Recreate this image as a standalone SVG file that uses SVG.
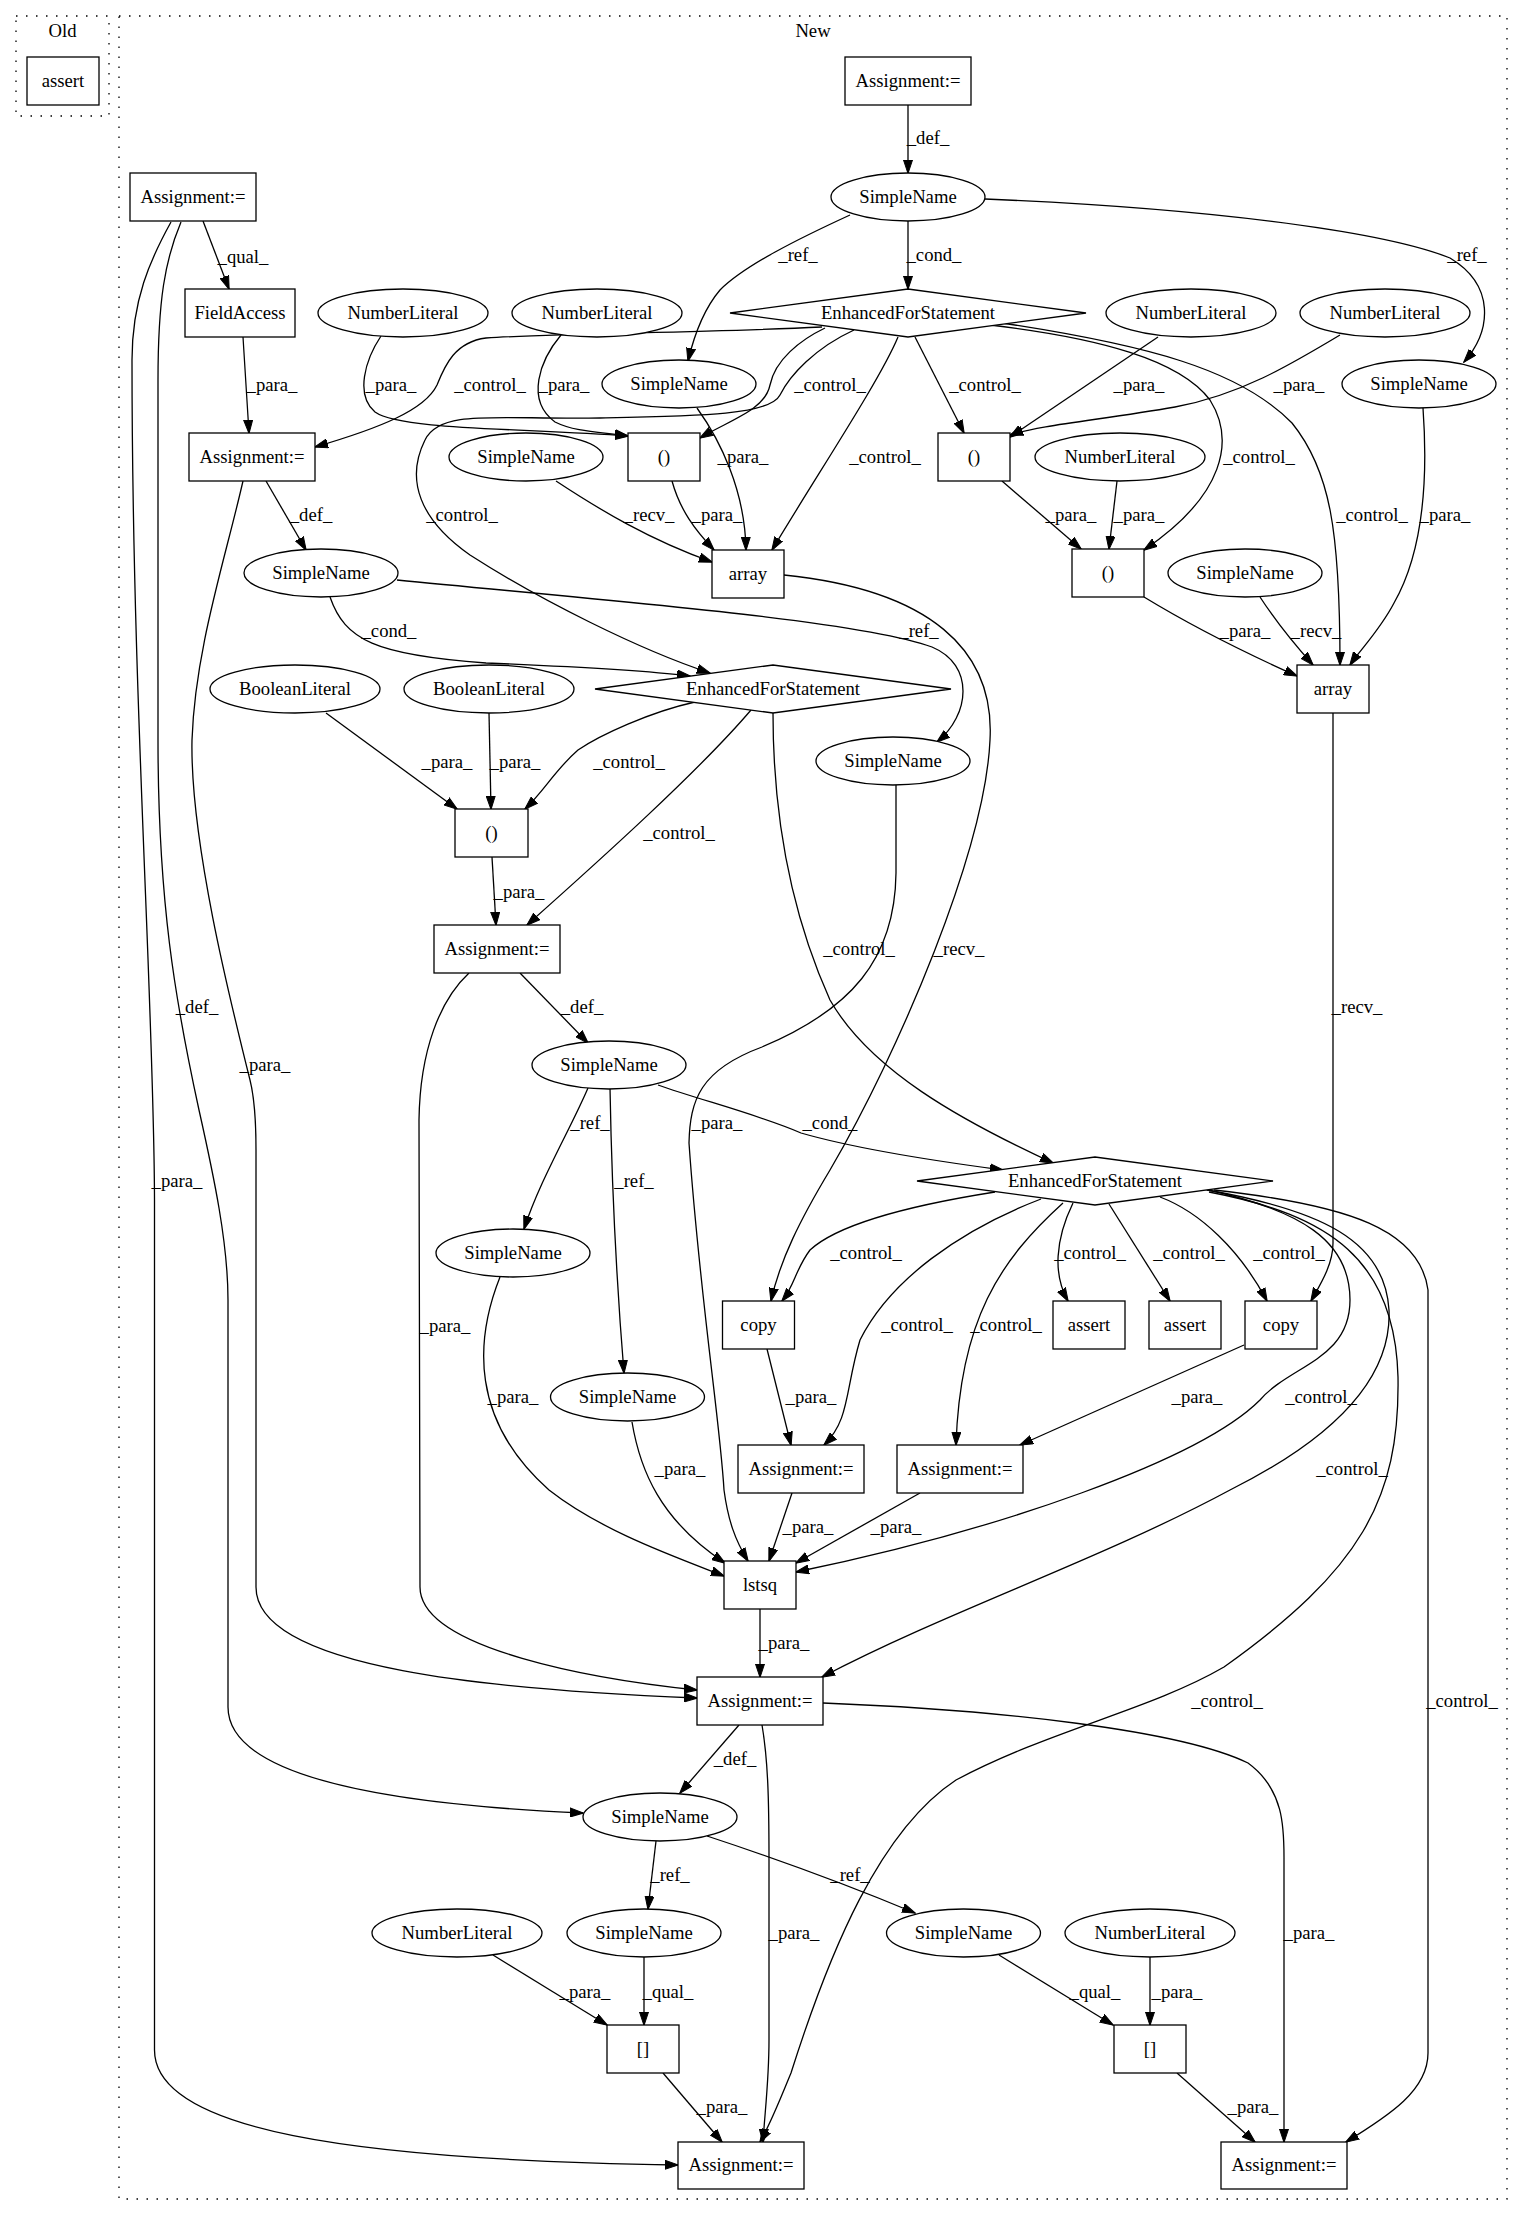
<svg xmlns="http://www.w3.org/2000/svg" width="1524" height="2216" viewBox="0 0 1524 2216">
<defs>
<marker id="ah" viewBox="0 0 14 10" refX="13" refY="5" markerWidth="14" markerHeight="10" orient="auto" markerUnits="userSpaceOnUse"><path d="M0,0.5 L13.5,5 L0,9.5 z" fill="#000" stroke="#000" stroke-width="1"/></marker>
<style>
text{font-family:"Liberation Serif","Times New Roman",serif;font-size:18.67px;fill:#000;text-anchor:middle}
.cl{fill:none;stroke:#000;stroke-width:1.3;stroke-dasharray:1.5,8.5}
.nd rect,.nd ellipse,.nd polygon{fill:#fff;stroke:#000;stroke-width:1.3}
#edges path{fill:none;stroke:#000;stroke-width:1.3;marker-end:url(#ah)}
</style>
</defs>
<rect width="1524" height="2216" fill="#fff"/>
<g id="clusters">
<rect class="cl" x="16" y="16" width="93" height="100"/>
<text x="62.5" y="37">Old</text>
<rect class="cl" x="119" y="16" width="1388" height="2183"/>
<text x="813" y="37">New</text>
</g>
<g id="edges">
<path d="M908,105 L908,173"/>
<path d="M908,221 L908,289"/>
<path d="M850,215 C800,238 745,265 720,290 C703,310 693,340 688,361"/>
<path d="M985,199 C1200,208 1380,230 1450,258 C1495,285 1492,330 1464,362"/>
<path d="M203,221 L229,289"/>
<path d="M171,222 C150,260 132,300 132,360 C132,700 154,1000 154.5,1200 L154.5,2050 C154.5,2130 350,2160 678,2165"/>
<path d="M181,222 C165,260 158,300 158,380 L158,740 C158,900 175,1000 199,1110 C214,1177 228,1243 228,1300 L228,1707 C228,1780 400,1805 583,1813"/>
<path d="M243,337 L249,433"/>
<path d="M381,336 C365,360 355,395 375,412 C400,430 520,428 628,436"/>
<path d="M561,335 C540,360 525,400 555,422 C575,432 600,432 628,436"/>
<path d="M822,327 C700,333 560,333 486,338 C455,342 445,365 437,385 C425,410 380,428 315,447"/>
<path d="M825,328 C800,340 775,360 770,385 C765,410 730,420 700,438"/>
<path d="M854,330 C815,348 790,375 780,395 C770,415 700,416 600,418 C500,420 440,408 425,440 C405,480 420,520 470,555 C540,600 640,650 710,673"/>
<path d="M898,337 C880,380 820,470 772,550"/>
<path d="M915,337 L964,433"/>
<path d="M990,325 C1100,338 1180,360 1210,400 C1235,440 1225,495 1144,550"/>
<path d="M995,322 C1150,345 1240,370 1292,423 C1330,470 1340,530 1340,665"/>
<path d="M1158,337 L1010,437"/>
<path d="M1340,335 C1290,365 1240,395 1175,407 C1100,420 1040,425 1010,435"/>
<path d="M697,408 C720,440 745,490 746,550"/>
<path d="M1423,408 C1426,450 1430,540 1394,603 C1380,630 1360,650 1350,665"/>
<path d="M556,481 C600,510 650,540 712,562"/>
<path d="M672,481 C680,510 695,530 714,550"/>
<path d="M1002,481 L1081,549"/>
<path d="M1117,481 L1109,549"/>
<path d="M1144,597 C1190,625 1250,655 1297,676"/>
<path d="M1260,597 C1275,620 1295,645 1313,665"/>
<path d="M266,481 L306,550"/>
<path d="M330,597 C345,640 375,655 486,663 C583,667 640,670 690,676"/>
<path d="M397,580 C600,600 860,620 932,647 C975,665 970,715 937,742"/>
<path d="M326,713 L457,809"/>
<path d="M489,713 L491,809"/>
<path d="M695,702 C650,712 600,735 578,750 C555,770 545,790 525,809"/>
<path d="M751,710 C700,770 600,860 527,925"/>
<path d="M773,713 C773,800 785,900 830,1000 C870,1070 960,1120 1053,1163"/>
<path d="M784,575 C930,590 995,650 990,740 C985,850 900,1050 830,1170 C800,1220 780,1260 771,1301"/>
<path d="M1333,713 L1333,1243 C1333,1265 1320,1285 1311,1301"/>
<path d="M492,857 L496,925"/>
<path d="M520,973 L588,1043"/>
<path d="M469,973 C440,1000 420,1050 419,1120 L420,1587 C420,1650 600,1680 697,1690"/>
<path d="M243,481 C225,560 195,650 192,740 C190,840 230,1000 250,1080 C255,1100 256,1130 256,1150 L256,1587 C256,1670 500,1690 697,1698"/>
<path d="M896,785 L896,873 C895,960 850,1010 762,1047 C700,1070 690,1100 689,1143 C700,1300 720,1420 724,1490 C728,1520 735,1540 748,1561"/>
<path d="M658,1085 C700,1100 760,1115 801,1133 C860,1150 950,1163 1003,1170"/>
<path d="M588,1088 C570,1130 540,1180 524,1229"/>
<path d="M610,1088 C612,1200 618,1300 624,1373"/>
<path d="M500,1277 C475,1340 470,1420 549,1490 C600,1530 670,1555 724,1576"/>
<path d="M632,1422 C640,1470 660,1520 725,1563"/>
<path d="M995,1192 C900,1207 835,1227 810,1250 C795,1270 795,1285 782,1301"/>
<path d="M1041,1199 C960,1230 890,1280 860,1340 C845,1390 850,1420 824,1445"/>
<path d="M1063,1203 C1000,1260 960,1320 956,1445"/>
<path d="M1073,1203 C1055,1240 1053,1275 1068,1301"/>
<path d="M1109,1204 L1170,1301"/>
<path d="M1160,1197 C1200,1212 1240,1250 1267,1301"/>
<path d="M1204,1189 C1300,1210 1350,1240 1350,1300 C1350,1360 1290,1365 1260,1400 C1200,1460 1000,1530 796,1572"/>
<path d="M1207,1190 C1320,1210 1385,1240 1389,1310 C1392,1380 1330,1440 1230,1490 C1100,1560 950,1610 822,1677"/>
<path d="M1209,1192 C1330,1215 1395,1260 1398,1377 C1400,1500 1360,1570 1224,1667 C1150,1710 1050,1730 956,1780 C880,1830 830,1950 791,2073 C780,2100 770,2125 760,2142"/>
<path d="M1214,1190 C1350,1205 1420,1230 1428,1290 L1428,2053 C1428,2090 1390,2115 1346,2142"/>
<path d="M767,1349 L791,1445"/>
<path d="M1244,1345 L1020,1445"/>
<path d="M792,1493 L769,1561"/>
<path d="M920,1493 L796,1563"/>
<path d="M760,1609 L760,1677"/>
<path d="M739,1725 L680,1793"/>
<path d="M762,1725 C768,1760 769,1800 769,1860 L769,2040 C769,2080 765,2110 763,2142"/>
<path d="M823,1703 C1000,1710 1180,1730 1248,1763 C1285,1790 1284,1830 1284,1860 L1284,2142"/>
<path d="M656,1841 L648,1909"/>
<path d="M707,1836 C780,1860 860,1890 915,1913"/>
<path d="M493,1955 L607,2025"/>
<path d="M644,1957 L644,2025"/>
<path d="M999,1955 L1113,2025"/>
<path d="M1150,1957 L1150,2025"/>
<path d="M663,2073 L722,2142"/>
<path d="M1177,2073 L1255,2142"/>
<text x="928" y="144">_def_</text>
<text x="934" y="261">_cond_</text>
<text x="798" y="261">_ref_</text>
<text x="1467" y="261">_ref_</text>
<text x="243" y="263">_qual_</text>
<text x="177" y="1187">_para_</text>
<text x="197" y="1013">_def_</text>
<text x="272" y="391">_para_</text>
<text x="391" y="391">_para_</text>
<text x="490" y="391">_control_</text>
<text x="564" y="391">_para_</text>
<text x="830" y="391">_control_</text>
<text x="985" y="391">_control_</text>
<text x="1139" y="391">_para_</text>
<text x="1299" y="391">_para_</text>
<text x="743" y="463">_para_</text>
<text x="885" y="463">_control_</text>
<text x="1259" y="463">_control_</text>
<text x="311" y="521">_def_</text>
<text x="462" y="521">_control_</text>
<text x="649" y="521">_recv_</text>
<text x="717" y="521">_para_</text>
<text x="1071" y="521">_para_</text>
<text x="1139" y="521">_para_</text>
<text x="1372" y="521">_control_</text>
<text x="1445" y="521">_para_</text>
<text x="389" y="637">_cond_</text>
<text x="919" y="637">_ref_</text>
<text x="1245" y="637">_para_</text>
<text x="1316" y="637">_recv_</text>
<text x="447" y="768">_para_</text>
<text x="515" y="768">_para_</text>
<text x="629" y="768">_control_</text>
<text x="679" y="839">_control_</text>
<text x="519" y="898">_para_</text>
<text x="859" y="955">_control_</text>
<text x="959" y="955">_recv_</text>
<text x="582" y="1013">_def_</text>
<text x="1357" y="1013">_recv_</text>
<text x="265" y="1071">_para_</text>
<text x="590" y="1129">_ref_</text>
<text x="717" y="1129">_para_</text>
<text x="830" y="1129">_cond_</text>
<text x="634" y="1187">_ref_</text>
<text x="866" y="1259">_control_</text>
<text x="1090" y="1259">_control_</text>
<text x="1189" y="1259">_control_</text>
<text x="1289" y="1259">_control_</text>
<text x="445" y="1332">_para_</text>
<text x="917" y="1331">_control_</text>
<text x="1006" y="1331">_control_</text>
<text x="513" y="1403">_para_</text>
<text x="811" y="1403">_para_</text>
<text x="1197" y="1403">_para_</text>
<text x="1321" y="1403">_control_</text>
<text x="680" y="1475">_para_</text>
<text x="1352" y="1475">_control_</text>
<text x="808" y="1533">_para_</text>
<text x="896" y="1533">_para_</text>
<text x="784" y="1649">_para_</text>
<text x="1227" y="1707">_control_</text>
<text x="1462" y="1707">_control_</text>
<text x="735" y="1765">_def_</text>
<text x="670" y="1881">_ref_</text>
<text x="850" y="1881">_ref_</text>
<text x="794" y="1939">_para_</text>
<text x="1309" y="1939">_para_</text>
<text x="585" y="1998">_para_</text>
<text x="668" y="1998">_qual_</text>
<text x="1095" y="1998">_qual_</text>
<text x="1177" y="1998">_para_</text>
<text x="722" y="2113">_para_</text>
<text x="1253" y="2113">_para_</text>
</g>
<g id="n_old_assert" class="nd"><rect x="27" y="57" width="72" height="48"/><text x="63" y="87">assert</text></g>
<g id="n_a0" class="nd"><rect x="845" y="57" width="126" height="48"/><text x="908" y="87">Assignment:=</text></g>
<g id="n_s0" class="nd"><ellipse cx="908" cy="197" rx="77" ry="24"/><text x="908" y="203">SimpleName</text></g>
<g id="n_a1" class="nd"><rect x="130" y="173" width="126" height="48"/><text x="193" y="203">Assignment:=</text></g>
<g id="n_efs1" class="nd"><polygon points="730,313 908,289 1086,313 908,337"/><text x="908" y="319">EnhancedForStatement</text></g>
<g id="n_fa" class="nd"><rect x="185" y="289" width="110" height="48"/><text x="240" y="319">FieldAccess</text></g>
<g id="n_nl1" class="nd"><ellipse cx="403" cy="313" rx="85" ry="24"/><text x="403" y="319">NumberLiteral</text></g>
<g id="n_nl2" class="nd"><ellipse cx="597" cy="313" rx="85" ry="24"/><text x="597" y="319">NumberLiteral</text></g>
<g id="n_nl3" class="nd"><ellipse cx="1191" cy="313" rx="85" ry="24"/><text x="1191" y="319">NumberLiteral</text></g>
<g id="n_nl4" class="nd"><ellipse cx="1385" cy="313" rx="85" ry="24"/><text x="1385" y="319">NumberLiteral</text></g>
<g id="n_sd1" class="nd"><ellipse cx="679" cy="384" rx="77" ry="24"/><text x="679" y="390">SimpleName</text></g>
<g id="n_sr" class="nd"><ellipse cx="1419" cy="384" rx="77" ry="24"/><text x="1419" y="390">SimpleName</text></g>
<g id="n_a2" class="nd"><rect x="189" y="433" width="126" height="48"/><text x="252" y="463">Assignment:=</text></g>
<g id="n_se1" class="nd"><ellipse cx="526" cy="457" rx="77" ry="24"/><text x="526" y="463">SimpleName</text></g>
<g id="n_p1" class="nd"><rect x="628" y="433" width="72" height="48"/><text x="664" y="463">()</text></g>
<g id="n_p2" class="nd"><rect x="938" y="433" width="72" height="48"/><text x="974" y="463">()</text></g>
<g id="n_nl5" class="nd"><ellipse cx="1120" cy="457" rx="85" ry="24"/><text x="1120" y="463">NumberLiteral</text></g>
<g id="n_sf1" class="nd"><ellipse cx="321" cy="573" rx="77" ry="24"/><text x="321" y="579">SimpleName</text></g>
<g id="n_array1" class="nd"><rect x="712" y="550" width="72" height="48"/><text x="748" y="580">array</text></g>
<g id="n_p3" class="nd"><rect x="1072" y="549" width="72" height="48"/><text x="1108" y="579">()</text></g>
<g id="n_sf2" class="nd"><ellipse cx="1245" cy="573" rx="77" ry="24"/><text x="1245" y="579">SimpleName</text></g>
<g id="n_b1" class="nd"><ellipse cx="295" cy="689" rx="85" ry="24"/><text x="295" y="695">BooleanLiteral</text></g>
<g id="n_b2" class="nd"><ellipse cx="489" cy="689" rx="85" ry="24"/><text x="489" y="695">BooleanLiteral</text></g>
<g id="n_efs2" class="nd"><polygon points="595,689 773,665 951,689 773,713"/><text x="773" y="695">EnhancedForStatement</text></g>
<g id="n_array2" class="nd"><rect x="1297" y="665" width="72" height="48"/><text x="1333" y="695">array</text></g>
<g id="n_sg" class="nd"><ellipse cx="893" cy="761" rx="77" ry="24"/><text x="893" y="767">SimpleName</text></g>
<g id="n_p4" class="nd"><rect x="455" y="809" width="73" height="48"/><text x="491.5" y="839">()</text></g>
<g id="n_a3" class="nd"><rect x="434" y="925" width="126" height="48"/><text x="497" y="955">Assignment:=</text></g>
<g id="n_sh" class="nd"><ellipse cx="609" cy="1065" rx="77" ry="24"/><text x="609" y="1071">SimpleName</text></g>
<g id="n_efs3" class="nd"><polygon points="917,1181 1095,1157 1273,1181 1095,1205"/><text x="1095" y="1187">EnhancedForStatement</text></g>
<g id="n_si1" class="nd"><ellipse cx="513" cy="1253" rx="77" ry="24"/><text x="513" y="1259">SimpleName</text></g>
<g id="n_copy1" class="nd"><rect x="722.5" y="1301" width="72" height="48"/><text x="758.5" y="1331">copy</text></g>
<g id="n_assert1" class="nd"><rect x="1053" y="1301" width="72" height="48"/><text x="1089" y="1331">assert</text></g>
<g id="n_assert2" class="nd"><rect x="1149" y="1301" width="72" height="48"/><text x="1185" y="1331">assert</text></g>
<g id="n_copy2" class="nd"><rect x="1245" y="1301" width="72" height="48"/><text x="1281" y="1331">copy</text></g>
<g id="n_si2" class="nd"><ellipse cx="627.5" cy="1397" rx="77" ry="24"/><text x="627.5" y="1403">SimpleName</text></g>
<g id="n_a4" class="nd"><rect x="738" y="1445" width="126" height="48"/><text x="801" y="1475">Assignment:=</text></g>
<g id="n_a5" class="nd"><rect x="897" y="1445" width="126" height="48"/><text x="960" y="1475">Assignment:=</text></g>
<g id="n_lstsq" class="nd"><rect x="724" y="1561" width="72" height="48"/><text x="760" y="1591">lstsq</text></g>
<g id="n_a6" class="nd"><rect x="697" y="1677" width="126" height="48"/><text x="760" y="1707">Assignment:=</text></g>
<g id="n_sj" class="nd"><ellipse cx="660" cy="1817" rx="77" ry="24"/><text x="660" y="1823">SimpleName</text></g>
<g id="n_nl6" class="nd"><ellipse cx="457" cy="1933" rx="85" ry="24"/><text x="457" y="1939">NumberLiteral</text></g>
<g id="n_sk1" class="nd"><ellipse cx="644" cy="1933" rx="77" ry="24"/><text x="644" y="1939">SimpleName</text></g>
<g id="n_sk2" class="nd"><ellipse cx="963.5" cy="1933" rx="77" ry="24"/><text x="963.5" y="1939">SimpleName</text></g>
<g id="n_nl7" class="nd"><ellipse cx="1150" cy="1933" rx="85" ry="24"/><text x="1150" y="1939">NumberLiteral</text></g>
<g id="n_q1" class="nd"><rect x="607" y="2025" width="72" height="48"/><text x="643" y="2055">[]</text></g>
<g id="n_q2" class="nd"><rect x="1114" y="2025" width="72" height="48"/><text x="1150" y="2055">[]</text></g>
<g id="n_a7" class="nd"><rect x="678" y="2142" width="126" height="47"/><text x="741" y="2171">Assignment:=</text></g>
<g id="n_a8" class="nd"><rect x="1221" y="2142" width="126" height="47"/><text x="1284" y="2171">Assignment:=</text></g>
</svg>
